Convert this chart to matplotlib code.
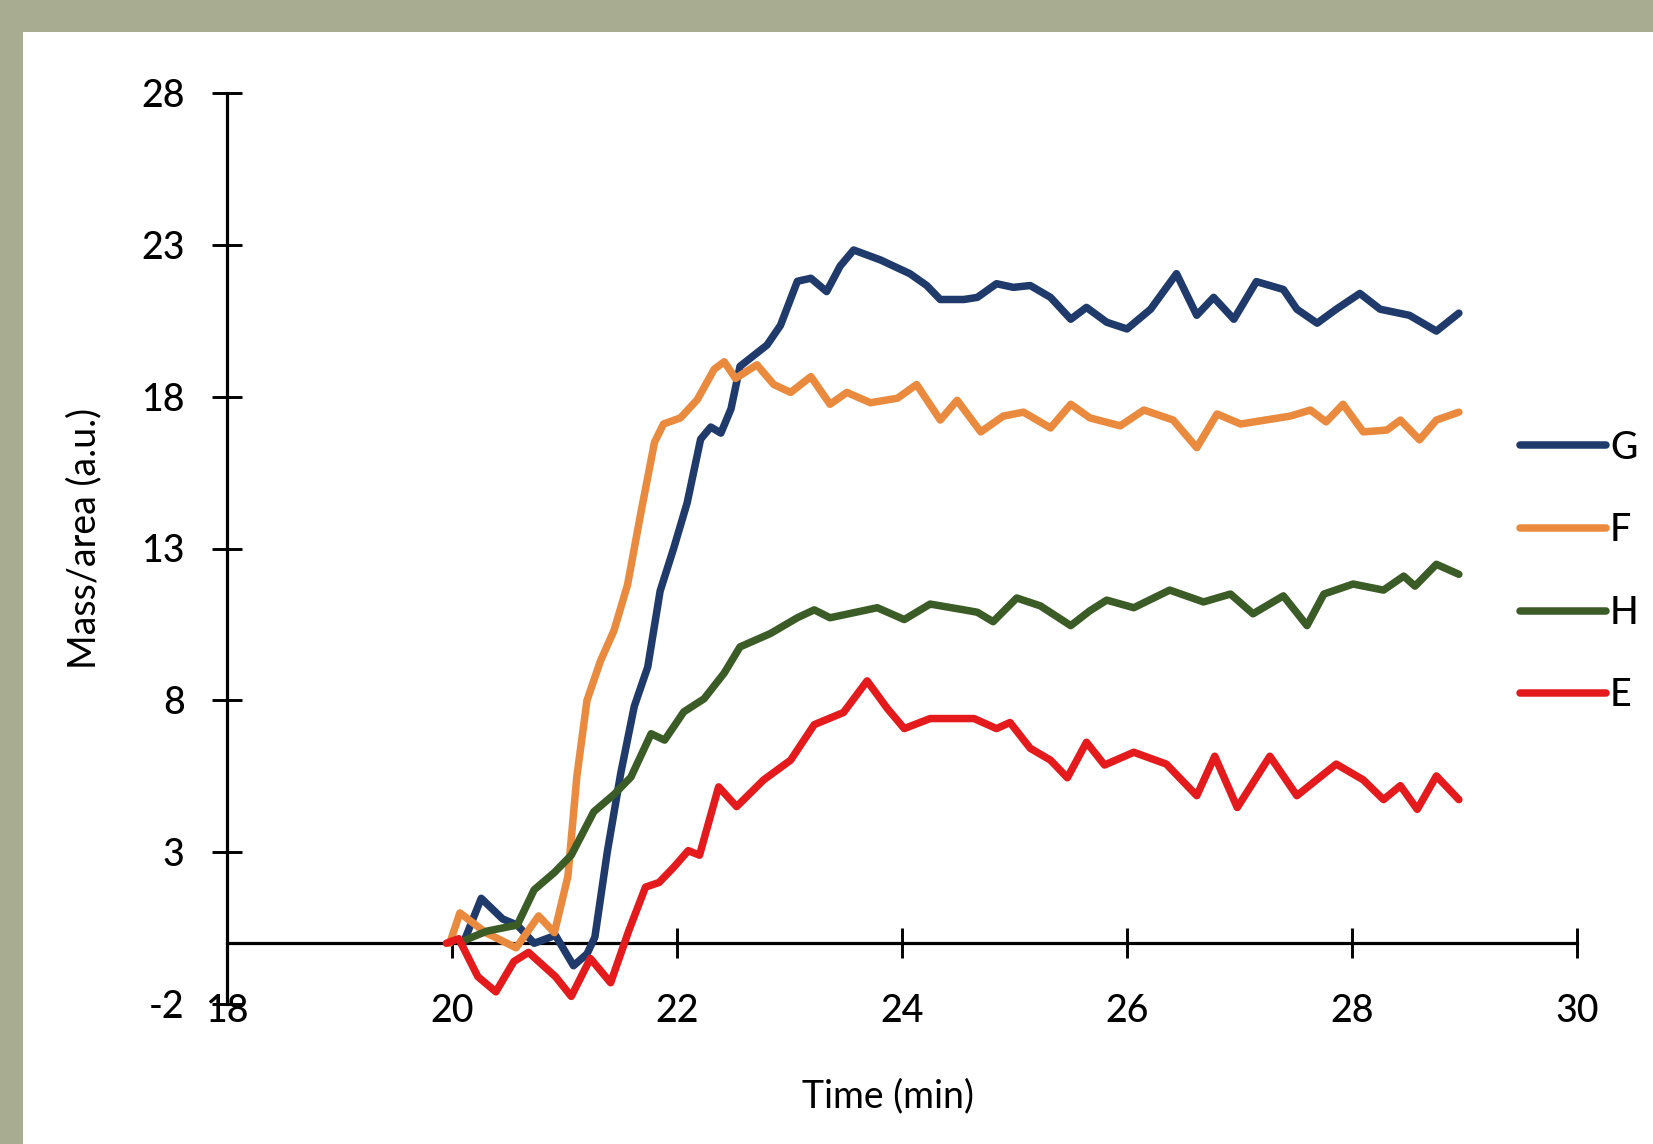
import matplotlib
matplotlib.use("Agg")
import matplotlib.pyplot as plt
from matplotlib.patches import Rectangle

plt.rcParams['font.family'] = ['Lato', 'DejaVu Sans']
plt.rcParams['font.weight'] = 'medium'
plt.rcParams['axes.unicode_minus'] = False

# Time (min) and mass/area (a.u.), one pair of lists per sample
g_time = [20.1, 20.26, 20.45, 20.58, 20.73, 20.92, 21.08, 21.2, 21.27, 21.38, 21.5,
          21.62, 21.74, 21.85, 21.97, 22.09, 22.21, 22.3, 22.39, 22.48, 22.56, 22.8,
          22.92, 23.07, 23.19, 23.33, 23.45, 23.57, 23.81, 24.07, 24.22, 24.34, 24.55,
          24.67, 24.84, 24.99, 25.14, 25.32, 25.5, 25.64, 25.82, 26.0, 26.21, 26.44,
          26.62, 26.77, 26.95, 27.15, 27.39, 27.51, 27.69, 27.86, 28.07, 28.25, 28.51,
          28.63, 28.75, 28.95]
g_mass = [0, 1.48, 0.8, 0.6, 0.0, 0.26, -0.74, -0.35, 0.2, 3.0, 5.6,
          7.8, 9.1, 11.6, 13.0, 14.5, 16.6, 17.0, 16.8, 17.6, 19.0, 19.7,
          20.35, 21.8, 21.9, 21.46, 22.3, 22.83, 22.5, 22.05, 21.66, 21.2, 21.2,
          21.27, 21.72, 21.6, 21.66, 21.27, 20.55, 20.94, 20.45, 20.23, 20.88, 22.05,
          20.68, 21.27, 20.55, 21.79, 21.53, 20.88, 20.42, 20.88, 21.4, 20.88, 20.68,
          20.42, 20.16, 20.75]

f_time = [19.98, 20.07, 20.3, 20.57, 20.77, 20.91, 21.03, 21.11, 21.2, 21.32, 21.44,
          21.56, 21.68, 21.8, 21.88, 22.03, 22.18, 22.33, 22.42, 22.52, 22.71, 22.86,
          23.01, 23.19, 23.36, 23.51, 23.72, 23.96, 24.13, 24.34, 24.49, 24.7, 24.9,
          25.08, 25.32, 25.5, 25.67, 25.94, 26.15, 26.41, 26.62, 26.8, 27.01, 27.45,
          27.63, 27.77, 27.92, 28.1, 28.31, 28.43, 28.6, 28.75, 28.95]
f_mass = [0, 1.0, 0.35, -0.15, 0.9, 0.35, 2.2, 5.5, 8.0, 9.3, 10.3,
          11.8, 14.2, 16.5, 17.1, 17.3, 17.9, 18.9, 19.15, 18.6, 19.05, 18.4,
          18.14, 18.66, 17.75, 18.14, 17.8, 17.95, 18.4, 17.23, 17.88, 16.84, 17.36,
          17.49, 16.97, 17.75, 17.3, 17.04, 17.56, 17.23, 16.32, 17.43, 17.1, 17.36,
          17.56, 17.17, 17.75, 16.84, 16.9, 17.23, 16.58, 17.23, 17.49]

h_time = [20.08, 20.31, 20.58, 20.73, 20.91, 21.06, 21.26, 21.44, 21.59, 21.77, 21.89,
          22.06, 22.24, 22.42, 22.56, 22.83, 23.07, 23.22, 23.36, 23.78, 24.02, 24.25,
          24.55, 24.67, 24.81, 25.02, 25.23, 25.5, 25.67, 25.82, 26.06, 26.38, 26.68,
          26.92, 27.12, 27.39, 27.6, 27.75, 28.01, 28.28, 28.46, 28.56, 28.75, 28.95]
h_mass = [0.05, 0.4, 0.6, 1.76, 2.33, 2.9, 4.33, 4.9, 5.47, 6.9, 6.69,
          7.62, 8.05, 8.9, 9.76, 10.2, 10.72, 10.98, 10.72, 11.05, 10.66, 11.17,
          10.98, 10.9, 10.59, 11.37, 11.11, 10.46, 10.95, 11.3, 11.05, 11.63, 11.24,
          11.5, 10.85, 11.44, 10.46, 11.5, 11.83, 11.63, 12.09, 11.76, 12.48, 12.15]

e_time = [19.95, 20.06, 20.23, 20.39, 20.55, 20.68, 20.92, 21.06, 21.23, 21.41, 21.57,
          21.72, 21.84, 21.97, 22.1, 22.2, 22.37, 22.53, 22.77, 23.01, 23.22, 23.48,
          23.69, 23.87, 24.02, 24.25, 24.64, 24.84, 24.96, 25.14, 25.32, 25.47, 25.64,
          25.8, 26.06, 26.35, 26.62, 26.78, 26.98, 27.27, 27.51, 27.86, 28.1, 28.28,
          28.43, 28.58, 28.75, 28.95]
e_mass = [0, 0.15, -1.1, -1.6, -0.6, -0.3, -1.1, -1.75, -0.5, -1.3, 0.4,
          1.85, 2.0, 2.5, 3.05, 2.9, 5.15, 4.5, 5.38, 6.03, 7.2, 7.6,
          8.64, 7.73, 7.07, 7.4, 7.4, 7.07, 7.27, 6.42, 6.03, 5.45, 6.62,
          5.87, 6.29, 5.9, 4.86, 6.16, 4.47, 6.16, 4.86, 5.9, 5.38, 4.73,
          5.19, 4.41, 5.51, 4.73]

labels = ['G', 'F', 'H', 'E']
colors = ['#1f3a6b', '#ea8a3e', '#3b5b27', '#e51a1c']
x_ticks = [18, 20, 22, 24, 26, 28, 30]
y_ticks = [-2, 3, 8, 13, 18, 23, 28]

fig = plt.figure(figsize=(16.53, 11.44), dpi=100)
fig.patch.set_facecolor('#a8ad91')
# white slide panel
fig.patches.append(Rectangle((23 / 1653, 0), 1, 1 - 32 / 1144, transform=fig.transFigure,
                             facecolor='white', edgecolor='none', zorder=-1))

ax = fig.add_axes([227 / 1653, 140 / 1144, 1350 / 1653, 911 / 1144])
ax.set_facecolor('none')
ax.set_zorder(2)

series = [(g_time, g_mass), (f_time, f_mass), (h_time, h_mass), (e_time, e_mass)]
for (t, m), lab, col in zip(series, labels, colors):
    ax.plot(t, m, color=col, lw=5.4, label=lab,
            solid_joinstyle='round', solid_capstyle='round')

ax.set_xlim(18, 30)
ax.set_ylim(-2, 28)
ax.set_xticks(x_ticks)
ax.set_yticks(y_ticks)

ax.spines['top'].set_visible(False)
ax.spines['right'].set_visible(False)
ax.spines['bottom'].set_position(('data', 0))
for s in ('left', 'bottom'):
    ax.spines[s].set_linewidth(2.3)
    ax.spines[s].set_zorder(1)

ax.tick_params(axis='both', direction='inout', length=21, width=2.1, labelsize=27)
ax.tick_params(axis='y', pad=20)
ax.tick_params(axis='x', pad=26)

ax.set_xlabel('Time (min)', fontsize=27)
ax.xaxis.set_label_coords(0.49, -0.101)
ax.xaxis.label.set_va('center')
ax.set_ylabel('Mass/area (a.u.)', fontsize=27)
ax.yaxis.set_label_coords(-0.106, 0.511)
ax.yaxis.label.set_va('center')

leg = fig.legend(loc='center left', bbox_to_anchor=(1520 / 1653, 0.5), frameon=False,
                 fontsize=27, handlelength=2.3, handletextpad=0.1, labelspacing=1.27,
                 borderaxespad=0, borderpad=0)
leg.set_zorder(3)

fig.savefig('out.png', dpi=100, facecolor=fig.get_facecolor())
